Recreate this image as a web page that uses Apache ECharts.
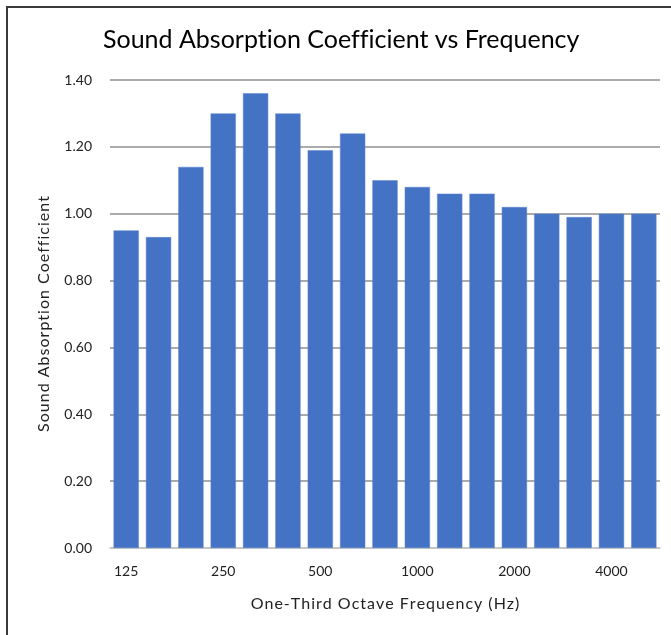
<!DOCTYPE html>
<html>
<head>
<meta charset="utf-8">
<script src="https://cdn.jsdelivr.net/npm/echarts@6/dist/echarts.min.js"></script>
<style>
html,body{margin:0;padding:0;background:#fff;}
#frame{position:absolute;left:6px;top:6px;width:700px;height:700px;border-top:2px solid #3a3a3a;border-left:2px solid #3a3a3a;box-sizing:border-box;}
#chart{position:absolute;left:0;top:0;width:671px;height:635px;}
</style>
</head>
<body>
<div id="frame"></div>
<div id="chart"></div>
<script>
const categories = ['125','160','200','250','315','400','500','630','800','1000','1250','1600','2000','2500','3150','4000','5000'];
const absorption = [0.95, 0.93, 1.14, 1.30, 1.36, 1.30, 1.19, 1.24, 1.10, 1.08, 1.06, 1.06, 1.02, 1.00, 0.99, 1.00, 1.00];
const yTicks = { min: 0, max: 1.4, interval: 0.2 };

const spaced = s => s.split('').join('\u200A');
const noLig = s => s.replace(/ti/g, 't\u200Ci').replace(/ffi/g, 'f\u200Cf\u200Ci');
const chart = echarts.init(document.getElementById('chart'));
const font = 'Lato, "Open Sans", sans-serif';
chart.setOption({
  animation: false,
  title: {
    text: noLig('Sound Absorption Coefficient vs Frequency'),
    left: 98,
    top: 22,
    textStyle: { fontFamily: font, fontSize: 25, fontWeight: 'normal', color: '#000' }
  },
  grid: { left: 110, right: 11, top: 80, bottom: 87 },
  xAxis: {
    type: 'category',
    data: categories,
    name: spaced('One-Third Octave Frequency (Hz)'),
    nameLocation: 'middle',
    nameGap: 48,
    nameTextStyle: { fontFamily: font, fontSize: 16, color: '#222' },
    axisLine: { lineStyle: { color: '#d0d0d0', width: 1.5 } },
    axisTick: { show: false },
    axisLabel: { interval: 2, fontFamily: font, fontSize: 14, color: '#222', margin: 16 }
  },
  yAxis: {
    type: 'value',
    min: yTicks.min,
    max: yTicks.max,
    interval: yTicks.interval,
    name: spaced('Sound Absorption Coefficient'),
    nameLocation: 'middle',
    nameGap: 58,
    nameTextStyle: { fontFamily: font, fontSize: 16, color: '#222' },
    axisLine: { show: false },
    axisTick: { show: false },
    axisLabel: { formatter: v => v.toFixed(2), fontFamily: font, fontSize: 14, color: '#222', margin: 18 },
    splitLine: { lineStyle: { color: '#8f8f8f', width: 1.5 } }
  },
  series: [{
    type: 'bar',
    data: absorption,
    barCategoryGap: '22%',
    itemStyle: { color: '#4472C4', borderColor: '#5b84cc', borderWidth: 0.5 }
  }]
});
</script>
</body>
</html>
